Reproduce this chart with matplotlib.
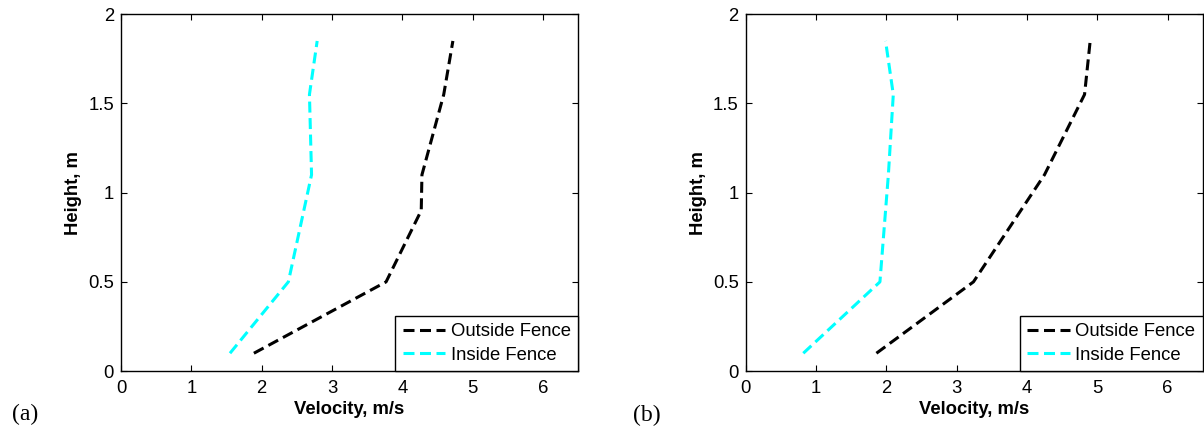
import numpy as np
import matplotlib.pyplot as plt

# velocity profiles, panel (a)
h_out_a = [0.1, 0.5, 0.9, 1.1, 1.55, 1.85]
v_out_a = [1.89, 3.77, 4.27, 4.28, 4.59, 4.72]
h_in_a = [0.1, 0.5, 1.1, 1.55, 1.85]
v_in_a = [1.55, 2.38, 2.71, 2.68, 2.79]

# velocity profiles, panel (b)
h_out_b = [0.1, 0.5, 1.1, 1.55, 1.85]
v_out_b = [1.86, 3.24, 4.25, 4.82, 4.90]
h_in_b = [0.1, 0.5, 1.1, 1.55, 1.85]
v_in_b = [0.82, 1.91, 2.03, 2.10, 1.99]

xticks = [0, 1, 2, 3, 4, 5, 6]
yticks = [0, 0.5, 1, 1.5, 2]
ytick_labels = ['0', '0.5', '1', '1.5', '2']
series_names = ['Outside Fence', 'Inside Fence']

plt.rcParams['font.family'] = ['Liberation Sans', 'DejaVu Sans']
FS = 13.3

fig = plt.figure(figsize=(12.04, 4.3), dpi=100)
ax_a = fig.add_axes([0.1005, 0.137, 0.3796, 0.830])
ax_b = fig.add_axes([0.6193, 0.137, 0.3796, 0.830])


def profil(ax, v_out, h_out, v_in, h_in):
    ax.plot(v_out, h_out, color='black', lw=2.2, dashes=(3.6, 1.8), label=series_names[0])
    ax.plot(v_in, h_in, color='#00FFFF', lw=2.2, dashes=(3.6, 1.8), label=series_names[1])
    ax.set_xlim(0, 6.5)
    ax.set_ylim(0, 2)
    ax.set_xticks(xticks)
    ax.set_yticks(yticks)
    ax.set_yticklabels(ytick_labels)
    ax.tick_params(direction='in', length=4, width=0.8, top=True, right=True,
                   labelsize=FS)
    ax.tick_params(axis='x', pad=6.5)
    ax.tick_params(axis='y', pad=5)
    for s in ax.spines.values():
        s.set_linewidth(1.0)
    ax.set_xlabel('Velocity, m/s', fontsize=FS, fontweight='bold', labelpad=3)
    ax.set_ylabel('Height, m', fontsize=FS, fontweight='bold', labelpad=4.5)
    leg = ax.legend(loc='lower right', borderaxespad=0, fontsize=FS, fancybox=False,
                    framealpha=1, edgecolor='black', handlelength=2.3, handletextpad=0.3,
                    labelspacing=0.35, borderpad=0.4)
    leg.get_frame().set_linewidth(1.0)


profil(ax_a, v_out_a, h_out_a, v_in_a, h_in_a)
profil(ax_b, v_out_b, h_out_b, v_in_b, h_in_b)

fig.text(0.010, 0.035, '(a)', fontsize=17, family='Liberation Serif', va='center')
fig.text(0.526, 0.033, '(b)', fontsize=17, family='Liberation Serif', va='center')

fig.savefig('out.png', dpi=100)
